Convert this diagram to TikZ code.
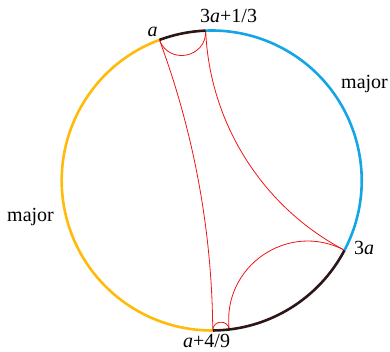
\documentclass[tikz,border=0pt]{standalone}
\usepackage{fontspec}
\setmainfont{Liberation Serif}
\definecolor{bluec}{RGB}{20,165,228}
\definecolor{yellowc}{RGB}{255,186,10}
\definecolor{darkc}{RGB}{45,22,22}
\definecolor{redc}{RGB}{240,20,20}
\begin{document}
\begin{tikzpicture}[x=1pt,y=1pt,
  rim/.style={line width=2.6pt},
  geo/.style={redc,line width=0.8pt},
  lab/.style={inner sep=0pt,font=\fontsize{20}{24}\selectfont}]
\useasboundingbox (0,0) rectangle (390,352);
\coordinate (C) at (211.7,171.5);
\coordinate (A) at ([shift={(C)}]110.4:150);
\coordinate (B) at ([shift={(C)}]92.3:150);
\coordinate (E) at ([shift={(C)}]332.3:150);
\coordinate (D) at ([shift={(C)}]270.4:150);
\coordinate (P) at ([shift={(C)}]276.7:150);
% geodesics
\draw[geo] (A) to[bend left=10,looseness=0.858] (D);
\draw[geo] (B) to[bend right=30,looseness=0.9125] (E);
\draw[geo] (A) to[bend right=80.95,looseness=1.471] (B);
\draw[geo] (D) to[bend left=86.85,looseness=1.614] (P);
\draw[geo] (E) to[bend right=62.2,looseness=1.161] (P);
% rim
\draw[rim,yellowc] (A) arc[start angle=110.4,end angle=270.4,radius=150];
\draw[rim,darkc] (D) arc[start angle=270.4,end angle=332.3,radius=150];
\draw[rim,bluec] (E) arc[start angle=-27.7,end angle=92.3,radius=150];
\draw[rim,darkc] (B) arc[start angle=92.3,end angle=110.4,radius=150];
% labels
\node[lab,anchor=base] (la) at (152.7,315) {\textit{a}};
\node[lab,anchor=base west] (lb) at (200,329.3) {3\textit{a}+1/3};
\node[lab,anchor=base west] (le) at (354,97) {3\textit{a}};
\node[lab,anchor=base west] (ld) at (183,4) {\textit{a}+4/9};
\node[lab,anchor=base west] (lm1) at (341,263) {major};
\node[lab,anchor=base west] (lm2) at (7,130) {major};
\end{tikzpicture}
\end{document}
